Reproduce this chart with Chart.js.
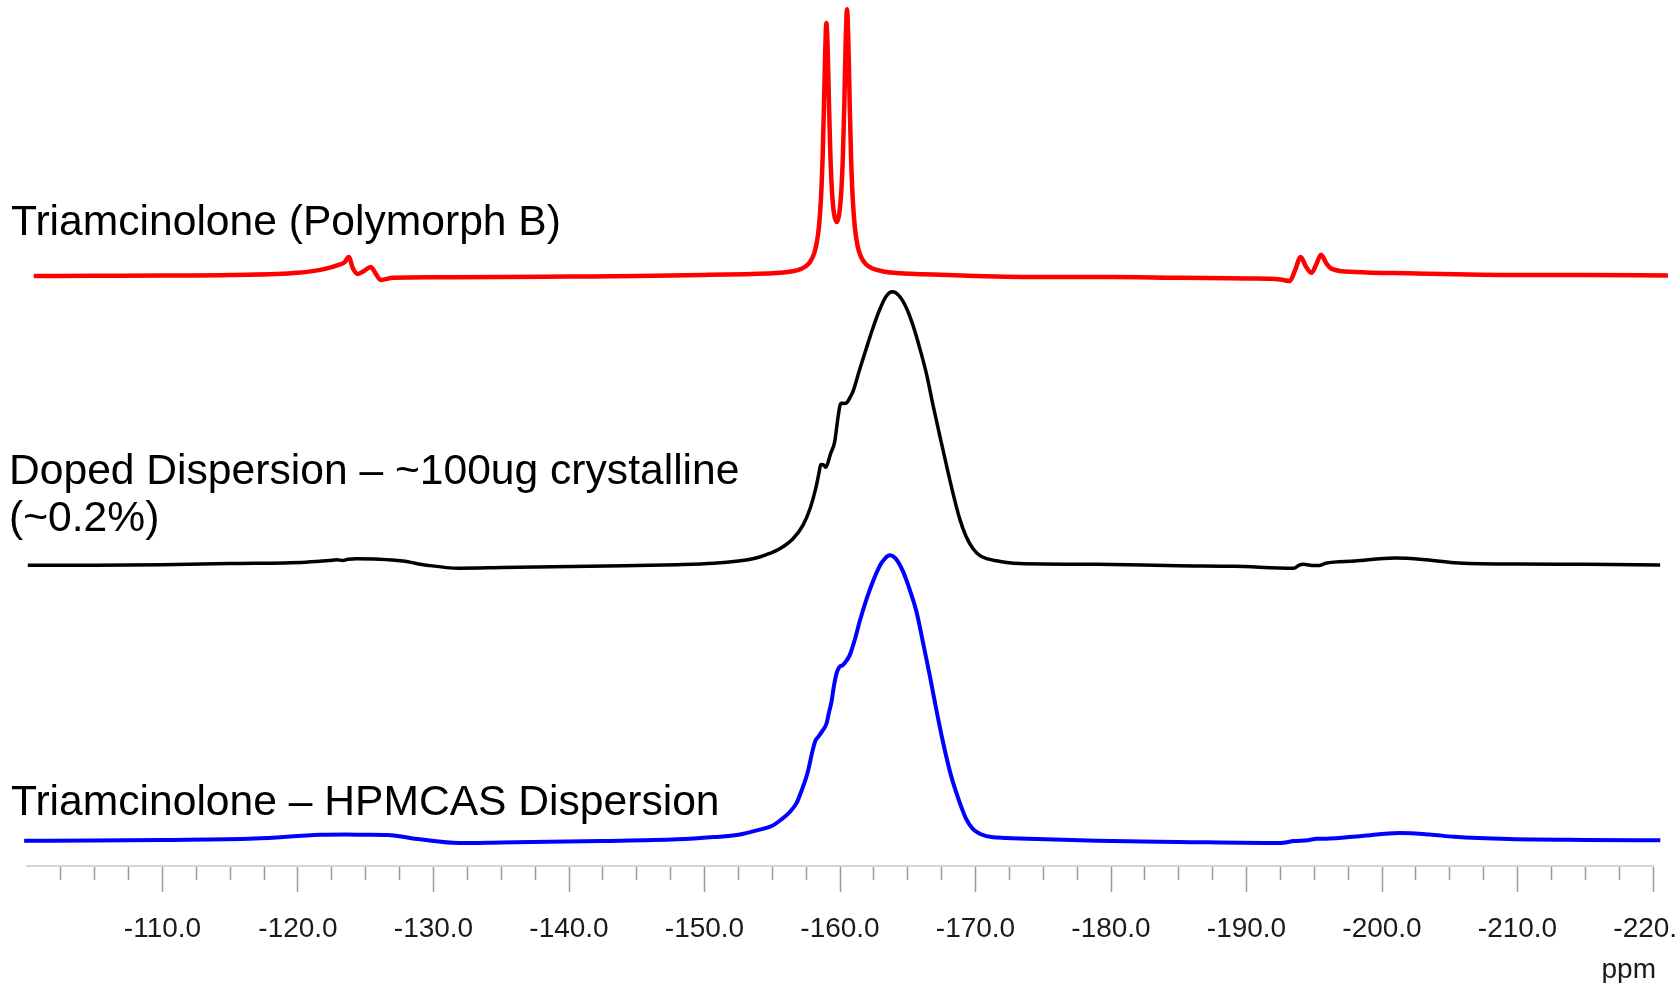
<!DOCTYPE html>
<html>
<head>
<meta charset="utf-8">
<script src="https://cdn.jsdelivr.net/npm/chart.js@4.4.1/dist/chart.umd.min.js"></script>
<style>
  html, body { margin: 0; padding: 0; background: #fff; overflow: hidden; }
  #wrap { position: absolute; left: 0; top: 0; width: 1720px; height: 983px; }
</style>
</head>
<body>
<div id="wrap"><canvas id="chart"></canvas></div>
<script>
// Triamcinolone (Polymorph B) - red trace
const redPpm = [-100.5, -105, -110, -115, -120, -122.0, -123.0, -123.45, -123.74, -124.05, -124.4, -124.9, -125.37, -125.7,
  -126.1, -127, -130, -135, -140, -145, -150, -153, -155.0, -156.0, -156.8, -157.4, -157.8, -158.1, -158.3, -158.45,
  -158.6, -158.72, -158.82, -158.91, -159.0, -159.09, -159.18, -159.28, -159.4, -159.55, -159.76, -159.95, -160.1,
  -160.22, -160.32, -160.42, -160.52, -160.62, -160.72, -160.82, -160.94, -161.09, -161.3, -161.55, -161.9, -162.4,
  -163.2, -164.5, -166, -170, -175, -180, -185, -190, -192.5, -193.2, -193.6, -194.0, -194.35, -194.8, -195.15, -195.5,
  -195.9, -196.3, -198, -202, -210, -215, -221.1];
const redIntensity = [-0.4, -0.3, -0.2, 0, 0.8, 2.3, 3.8, 4.8, 6.8, 2.5, 0.4, 1.6, 3.0, 0.8,
  -1.9, -1.1, -0.9, -0.8, -0.6, -0.4, 0, 0.3, 0.6, 1.0, 1.7, 3.0, 5.0, 8.2, 12.5, 18.3,
  29.1, 44.6, 64.4, 84.6, 94.8, 85.2, 65.7, 46.7, 32.3, 23.3, 19.9, 23.2, 31.9,
  45.8, 64.7, 87.9, 100, 87.2, 63.3, 43.6, 28.6, 18.2, 10.9, 6.8, 4.1, 2.4,
  1.3, 0.6, 0.3, -0.4, -0.8, -0.8, -1.1, -1.3, -1.7, -2.3, 2.0, 6.8, 3.5, 0.8, 4.0, 7.6,
  4.3, 2.3, 1.1, 0.6, 0, 0, -0.2];

// Doped dispersion - black trace
const blackPpm = [-100.06, -105, -110, -115, -120.57, -122.3, -122.86, -123.3, -123.7, -124.33, -126, -127.73, -129.5, -131.86,
  -135, -142.78, -148, -150.68, -152.5, -153.3, -154.07, -154.8, -155.55, -156.53, -157.27, -157.8, -158.21, -158.45,
  -158.58, -158.75, -158.95, -159.3, -159.61, -159.8, -160.0, -160.1, -160.3, -160.5, -160.65, -160.96, -161.45, -161.95,
  -162.45, -162.93, -163.4, -163.87, -164.35, -164.9, -165.4, -165.88, -166.4, -166.86, -167.35, -167.85, -168.35,
  -168.83, -169.3, -169.82, -170.3, -170.9, -171.54, -172.3, -173.26, -178.95, -185, -189.11, -193.48, -193.9, -194.18,
  -195.0, -195.36, -195.84, -198, -200.94, -203, -205.33, -210, -215, -220.53];
const blackIntensity = [-0.4, -0.4, -0.2, 0.2, 0.7, 1.3, 1.6, 1.3, 1.8, 1.95, 1.8, 1.1, -0.4, -1.5,
  -1.3, -0.7, -0.2, 0.3, 1.1, 1.7, 2.6, 3.9, 5.6, 9.3, 14.3, 20.5, 27.8, 33.5,
  36.6, 36.5, 35.6, 40.5, 45.0, 52.0, 58.3, 59.1, 59.0, 59.3, 60.4, 63.4, 71.5, 79.4,
  87.0, 93.5, 98.3, 100, 98.6, 94.1, 87.5, 79.4, 69.5, 58.5, 47.5, 36.4, 25.8,
  16.7, 10.2, 5.6, 3.2, 1.9, 1.2, 0.6, 0.2, -0.1, -0.6, -0.8, -1.5, -0.4, -0.1,
  -0.5, -0.5, 0.3, 1.1, 2.2, 1.7, 0.5, 0, -0.1, -0.3];

// Triamcinolone - HPMCAS dispersion - blue trace
const bluePpm = [-99.79, -105, -110, -116.8, -121.67, -123.59, -125, -126.62, -129, -131.86, -135, -142.41, -148, -150.68,
  -152.5, -154.07, -155.0, -155.62, -156.3, -156.8, -157.03, -157.6, -158.01, -158.2, -158.38, -158.7, -159.0,
  -159.2, -159.37, -159.55, -159.74, -159.95, -160.22, -160.45, -160.72, -161.1, -161.45, -161.95, -162.43, -163.0,
  -163.35, -163.66, -164.1, -164.65, -165.15, -165.64, -166.12, -166.62, -167.1, -167.6, -168.2, -168.83, -169.3,
  -169.82, -170.4, -171.29, -172.22, -173.26, -178.97, -185, -192.49, -193.5, -194.52, -195.2, -195.84, -198.5,
  -201.28, -203.5, -205.33, -209.38, -215, -220.54];
const blueIntensity = [-0.3, -0.2, 0, 0.5, 1.8, 1.9, 1.8, 1.7, 0.2, -1.1, -0.9, -0.4, 0.2, 1.0,
  1.8, 3.6, 5.0, 7.0, 9.8, 13.0, 15.6, 23.5, 32.0, 35.0, 36.1, 38.3, 40.8,
  45.0, 48.5, 54.0, 58.4, 60.7, 61.4, 62.8, 64.9, 70.5, 76.7, 84.5, 90.8, 96.8,
  99.0, 100, 98.9, 94.3, 87.8, 80.2, 69.5, 57.9, 46.0, 34.4, 22.5, 13.2, 7.5,
  3.8, 2.0, 0.9, 0.7, 0.5, -0.3, -0.7, -1.1, -0.4, -0.1, 0.4, 0.4, 1.4,
  2.4, 1.9, 1.1, 0.3, 0, -0.1];

const traceLabels = [
  { lines: ["Triamcinolone (Polymorph B)"], x: 11, y: 235 },
  { lines: ["Doped Dispersion \u2013 ~100ug crystalline", "(~0.2%)"], x: 9, y: 484 },
  { lines: ["Triamcinolone \u2013 HPMCAS Dispersion"], x: 11, y: 815 }
];

const axisFont = '"Liberation Sans", Arial, sans-serif';

function toPoints(xs, ys) {
  return xs.map((x, i) => ({ x: x, y: ys[i] }));
}

// trace names on the left and the unit under the axis
const textPlugin = {
  id: 'traceText',
  afterDraw(chart) {
    const ctx = chart.ctx;
    ctx.save();
    ctx.font = '42.6px "Liberation Sans", Arial, sans-serif';
    ctx.fillStyle = '#000';
    ctx.textBaseline = 'alphabetic';
    ctx.textAlign = 'left';
    traceLabels.forEach(l => {
      l.lines.forEach((t, i) => ctx.fillText(t, l.x, l.y + i * 47));
    });
    const xs = chart.scales.x;
    ctx.font = '28px ' + axisFont;
    ctx.fillStyle = '#1a1a1a';
    ctx.textAlign = 'right';
    ctx.textBaseline = 'middle';
    ctx.fillText('ppm', xs.right + 3, xs.bottom - 13);
    ctx.restore();
  }
};

const isMajor = v => Math.abs(v % 10) < 1e-6;

new Chart(document.getElementById('chart'), {
  type: 'line',
  data: {
    datasets: [
      { data: toPoints(redPpm, redIntensity), yAxisID: 'yRed', borderColor: '#ff0000', borderWidth: 4.5 },
      { data: toPoints(blackPpm, blackIntensity), yAxisID: 'yBlack', borderColor: '#000000', borderWidth: 3.5 },
      { data: toPoints(bluePpm, blueIntensity), yAxisID: 'yBlue', borderColor: '#0000ff', borderWidth: 4 }
    ].map(d => Object.assign(d, { pointRadius: 0, fill: false, cubicInterpolationMode: 'monotone', clip: false }))
  },
  options: {
    responsive: true,
    maintainAspectRatio: false,
    animation: false,
    layout: { padding: { left: 27, right: 67, top: 0, bottom: 0 } },
    plugins: { legend: { display: false }, tooltip: { enabled: false } },
    scales: {
      x: {
        type: 'linear',
        position: 'bottom',
        min: -220,
        max: -100,
        reverse: true,
        afterFit: s => { s.height = 117; },
        border: { display: true, color: '#d6d6d6', width: 2 },
        grid: {
          drawOnChartArea: false,
          drawTicks: true,
          tickLength: 26,
          tickWidth: 1.5,
          tickColor: ctx => (ctx.tick && ctx.tick.value === -100) ? 'rgba(0,0,0,0)' : '#9a9a9a',
          tickBorderDash: ctx => (ctx.tick && isMajor(ctx.tick.value)) ? [] : [13, 100]
        },
        ticks: {
          stepSize: 2.5,
          autoSkip: false,
          maxRotation: 0,
          padding: 20,
          color: '#1a1a1a',
          font: { family: axisFont, size: 28 },
          callback: v => (isMajor(v) && v !== -100) ? v.toFixed(1) : ''
        },
        title: { display: false }
      },
      yRed: { type: 'linear', display: false, min: -222.5, max: 103.5 },
      yBlack: { type: 'linear', display: false, min: -110.9, max: 207.2 },
      yBlue: { type: 'linear', display: false, min: -9.16, max: 295.0 }
    }
  },
  plugins: [textPlugin]
});
</script>
</body>
</html>
